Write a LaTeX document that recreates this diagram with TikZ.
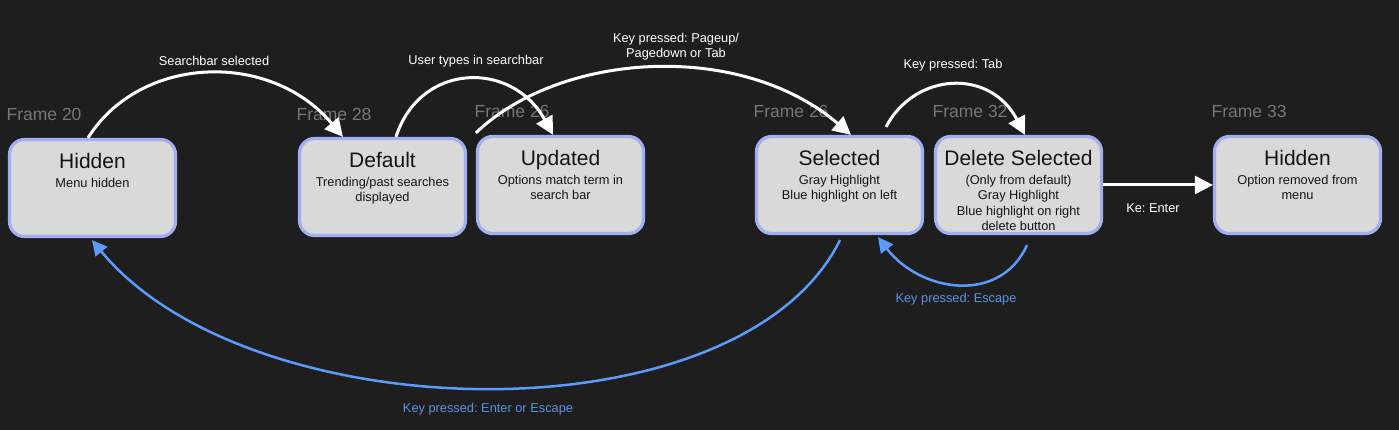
\documentclass[tikz,border=0pt]{standalone}
\usepackage{fontspec}
\setmainfont{Liberation Sans}
\usetikzlibrary{arrows.meta,calc}
\frenchspacing
\definecolor{bg}{RGB}{30,30,30}
\definecolor{boxfill}{RGB}{217,217,217}
\definecolor{boxline}{RGB}{162,174,240}
\definecolor{framegray}{RGB}{118,118,118}
\definecolor{blueline}{RGB}{92,155,250}
\definecolor{bluetext}{RGB}{92,145,225}
\definecolor{ink}{RGB}{20,20,20}
\tikzset{
  statebox/.style={draw=boxline, fill=boxfill, line width=3.2pt, rounded corners=15pt,
    minimum width=166pt, minimum height=97pt, inner sep=0pt},
  titletext/.style={anchor=base, text=ink, inner sep=0pt, font=\fontsize{21}{25}\selectfont},
  subtext/.style={anchor=north, align=center, text=ink, inner sep=0pt, font=\fontsize{12.8}{15.5}\selectfont},
  framelbl/.style={anchor=base west, text=framegray, inner sep=0pt, font=\fontsize{17.5}{20}\selectfont},
  whitearrow/.style={draw=white, line width=3pt, -{Triangle[length=18pt,width=18pt]}},
  bluearrow/.style={draw=blueline, line width=2.5pt, -{Triangle[length=15pt,width=15pt]}},
  wlbl/.style={text=white, inner sep=0pt, align=center, font=\fontsize{12.8}{15}\selectfont},
  blbl/.style={text=bluetext, inner sep=0pt, align=center, font=\fontsize{12.8}{15}\selectfont},
}
\begin{document}
\begin{tikzpicture}[x=1pt,y=-1pt]
\fill[bg] (0,0) rectangle (1399,430);
\useasboundingbox (0,0) rectangle (1399,430);

% boxes
\node[statebox] (n1) at (92.5,188) {};
\node[statebox] (n2) at (382.5,187) {};
\node[statebox] (n3) at (560.5,185) {};
\node[statebox] (n4) at (839.5,185) {};
\node[statebox] (n5) at (1018.5,185) {};
\node[statebox] (n6) at (1297.5,185) {};

% frame labels
\node[framelbl] (f1) at ($(n1.north west)+(-1.5,-17)$) {Frame 20};
\node[framelbl] (f2) at ($(n2.north west)+(-1.5,-16)$) {Frame 28};
\node[framelbl] (f3) at ($(n3.north west)+(-1.5,-17)$) {Frame 26};
\node[framelbl] (f4) at ($(n4.north west)+(-1.5,-17)$) {Frame 26};
\node[framelbl] (f5) at ($(n5.north west)+(-1.5,-17)$) {Frame 32};
\node[framelbl] (f6) at ($(n6.north west)+(-1.5,-17)$) {Frame 33};

% titles
\node[titletext] (h1) at ($(n1.north)+(0,31)$) {Hidden};
\node[titletext] (h2) at ($(n2.north)+(0,31)$) {Default};
\node[titletext] (h3) at ($(n3.north)+(0,31)$) {Updated};
\node[titletext] (h4) at ($(n4.north)+(0,31)$) {Selected};
\node[titletext] (h5) at ($(n5.north)+(0,31)$) {Delete Selected};
\node[titletext] (h6) at ($(n6.north)+(0,31)$) {Hidden};

% descriptions
\node[subtext] (s1) at ($(n1.north)+(0,40)$) {Menu hidden};
\node[subtext] (s2) at ($(n2.north)+(0,40)$) {Trending/past searches\\displayed};
\node[subtext] (s3) at ($(n3.north)+(0,40)$) {Options match term in\\search bar};
\node[subtext] (s4) at ($(n4.north)+(0,40)$) {Gray Highlight\\Blue highlight on left};
\node[subtext] (s5) at ($(n5.north)+(0,40)$) {(Only from default)\\Gray Highlight\\Blue highlight on right\\delete button};
\node[subtext] (s6) at ($(n6.north)+(0,40)$) {Option removed from\\menu};

% connector endpoints
\coordinate (a1s) at ($(n1.north)+(-4.5,0)$);
\coordinate (a1e) at ($(n2.north)+(-39.5,0)$);
\coordinate (a2s) at ($(n2.north)+(13.5,0)$);
\coordinate (a2e) at ($(n3.north)+(-7.5,0)$);
\coordinate (a3s) at ($(n3.north west)+(0,-2)$);
\coordinate (a3e) at ($(n4.north)+(11.5,0)$);
\coordinate (a4s) at ($(n4.north)+(46.5,-8)$);
\coordinate (a4e) at ($(n5.north)+(6.5,0)$);
\coordinate (b1s) at ($(n4.south)+(0.5,5)$);
\coordinate (b1e) at ($(n1.south)+(-0.5,2)$);
\coordinate (b2s) at ($(n5.south)+(8.5,10)$);
\coordinate (b2e) at ($(n4.south)+(38.5,2)$);

% white arrows
\draw[whitearrow] (a1s) .. controls (140,55) and (270,50) .. (a1e);
\draw[whitearrow] (a2s) .. controls (420,62) and (512,60) .. (a2e);
\draw[whitearrow] (a3s) .. controls (560,52) and (740,40) .. (a3e);
\draw[whitearrow] (a4s) .. controls (915,72) and (990,68) .. (a4e);
\draw[whitearrow] (n5.east) -- (n6.west);

% blue arrows
\draw[bluearrow] (b1s) .. controls (740,442) and (250,432) .. (b1e);
\draw[bluearrow] (b2s) .. controls (1000,305) and (920,292) .. (b2e);

% labels
\node[wlbl] (l1) at (214,61) {Searchbar selected};
\node[wlbl] (l2) at (476,61) {User types in searchbar};
\node[wlbl] (l3) at (676,46.5) {Key pressed: Pageup/\\Pagedown or Tab};
\node[wlbl] (l4) at (953,65) {Key pressed: Tab};
\node[wlbl] (l5) at (1153,208) {Ke: Enter};
\node[blbl] (l6) at (956,299) {Key pressed: Escape};
\node[blbl] (l7) at (488,409) {Key pressed: Enter or Escape};
\end{tikzpicture}
\end{document}
